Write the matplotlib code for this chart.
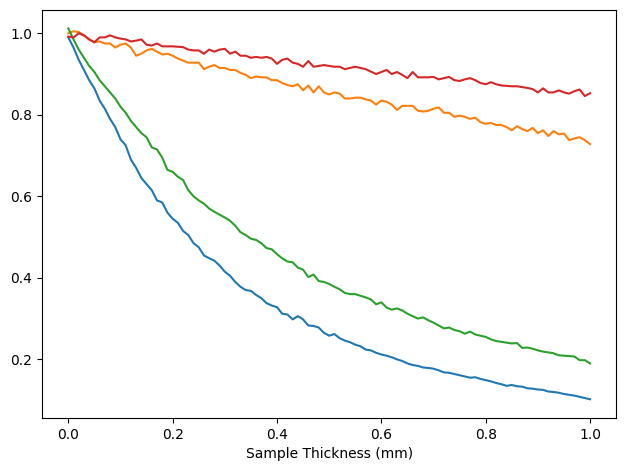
import numpy as np
import matplotlib
matplotlib.use("Agg")
import matplotlib.pyplot as plt

# sample thickness, 101 steps from 0 to 1 mm
thickness = np.linspace(0, 1, 101)

blue = [0.990, 0.965, 0.935, 0.910, 0.885, 0.865, 0.835, 0.815, 0.790, 0.770, 0.740,
        0.725, 0.690, 0.670, 0.645, 0.630, 0.615, 0.590, 0.585, 0.560, 0.545,
        0.535, 0.515, 0.505, 0.485, 0.475, 0.455, 0.448, 0.442, 0.430, 0.415,
        0.405, 0.390, 0.378, 0.370, 0.368, 0.358, 0.350, 0.338, 0.332, 0.328,
        0.312, 0.310, 0.298, 0.306, 0.298, 0.283, 0.282, 0.278, 0.265, 0.258,
        0.262, 0.252, 0.246, 0.242, 0.236, 0.232, 0.224, 0.222, 0.216, 0.212,
        0.209, 0.205, 0.200, 0.196, 0.190, 0.186, 0.184, 0.180, 0.179, 0.177,
        0.173, 0.168, 0.167, 0.164, 0.161, 0.158, 0.155, 0.156, 0.152, 0.149,
        0.146, 0.142, 0.139, 0.135, 0.137, 0.134, 0.133, 0.129, 0.128, 0.126,
        0.125, 0.121, 0.120, 0.118, 0.115, 0.113, 0.111, 0.108, 0.105, 0.102]

orange = [1.000, 1.005, 1.003, 0.995, 0.985, 0.978, 0.980, 0.975, 0.975, 0.965, 0.972,
          0.975, 0.965, 0.945, 0.950, 0.958, 0.962, 0.955, 0.948, 0.950, 0.945,
          0.938, 0.933, 0.928, 0.928, 0.928, 0.912, 0.918, 0.922, 0.915, 0.915,
          0.910, 0.910, 0.903, 0.898, 0.890, 0.894, 0.892, 0.892, 0.885, 0.885,
          0.878, 0.873, 0.870, 0.875, 0.860, 0.872, 0.855, 0.870, 0.855, 0.850,
          0.855, 0.852, 0.840, 0.840, 0.842, 0.842, 0.838, 0.835, 0.825, 0.835,
          0.832, 0.825, 0.812, 0.822, 0.822, 0.822, 0.810, 0.808, 0.810, 0.815,
          0.818, 0.805, 0.805, 0.795, 0.798, 0.795, 0.790, 0.793, 0.782, 0.778,
          0.780, 0.775, 0.775, 0.770, 0.762, 0.772, 0.765, 0.760, 0.768, 0.755,
          0.762, 0.748, 0.760, 0.752, 0.754, 0.738, 0.742, 0.745, 0.738, 0.728]

green = [1.012, 0.985, 0.960, 0.940, 0.920, 0.905, 0.885, 0.870, 0.855, 0.840, 0.820,
         0.805, 0.785, 0.770, 0.755, 0.745, 0.720, 0.715, 0.695, 0.665, 0.660,
         0.648, 0.640, 0.615, 0.600, 0.590, 0.582, 0.570, 0.562, 0.555, 0.548,
         0.540, 0.528, 0.512, 0.505, 0.496, 0.493, 0.485, 0.473, 0.470, 0.458,
         0.448, 0.440, 0.438, 0.425, 0.420, 0.402, 0.408, 0.392, 0.390, 0.385,
         0.378, 0.372, 0.363, 0.360, 0.360, 0.356, 0.352, 0.347, 0.335, 0.340,
         0.327, 0.322, 0.325, 0.320, 0.312, 0.306, 0.300, 0.303, 0.296, 0.290,
         0.283, 0.276, 0.278, 0.272, 0.269, 0.263, 0.268, 0.261, 0.258, 0.255,
         0.249, 0.245, 0.243, 0.241, 0.239, 0.240, 0.228, 0.229, 0.226, 0.222,
         0.219, 0.217, 0.215, 0.210, 0.209, 0.208, 0.207, 0.198, 0.198, 0.190]

red = [0.992, 0.990, 1.000, 0.995, 0.985, 0.978, 0.990, 0.990, 0.995, 0.990, 0.987,
       0.985, 0.980, 0.982, 0.985, 0.972, 0.970, 0.975, 0.968, 0.968, 0.968,
       0.967, 0.966, 0.960, 0.958, 0.958, 0.950, 0.960, 0.955, 0.960, 0.962,
       0.950, 0.955, 0.945, 0.945, 0.940, 0.942, 0.940, 0.942, 0.938, 0.925,
       0.935, 0.938, 0.928, 0.925, 0.918, 0.932, 0.918, 0.920, 0.922, 0.920,
       0.918, 0.918, 0.912, 0.915, 0.918, 0.915, 0.912, 0.906, 0.900, 0.905,
       0.910, 0.900, 0.905, 0.898, 0.890, 0.905, 0.892, 0.892, 0.892, 0.893,
       0.887, 0.890, 0.893, 0.885, 0.883, 0.887, 0.890, 0.885, 0.878, 0.875,
       0.880, 0.875, 0.872, 0.871, 0.870, 0.870, 0.868, 0.866, 0.863, 0.855,
       0.865, 0.855, 0.855, 0.860, 0.855, 0.852, 0.858, 0.862, 0.846, 0.853]

fig, ax = plt.subplots(figsize=(6.3, 4.7), dpi=100)
ax.plot(thickness, blue)
ax.plot(thickness, orange)
ax.plot(thickness, green)
ax.plot(thickness, red)
ax.set_xlabel('Sample Thickness (mm)')
fig.subplots_adjust(left=0.067, right=0.978, top=0.979, bottom=0.111)
fig.savefig('out.png')
